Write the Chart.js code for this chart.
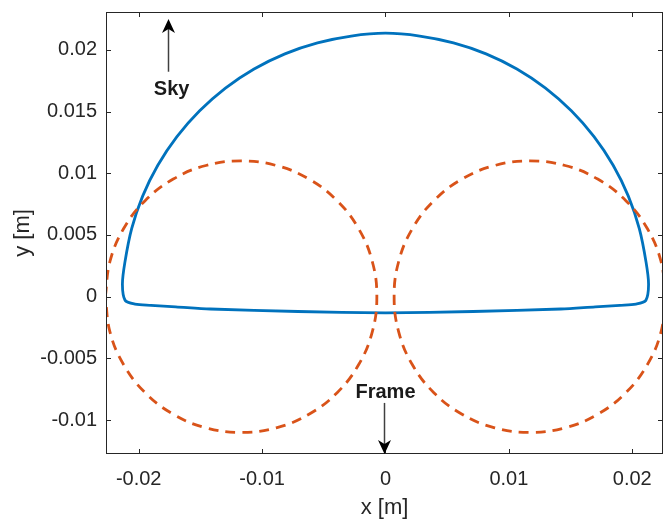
<!DOCTYPE html>
<html><head><meta charset="utf-8">
<script src="https://cdn.jsdelivr.net/npm/chart.js@4/dist/chart.umd.min.js"></script>
<style>html,body{margin:0;padding:0;background:#fff}#wrap{width:664px;height:521px}</style>
</head><body><div id="wrap"><canvas id="c" width="664" height="521"></canvas></div>
<script>
// ---- tick values / labels ----
const xTickValues = [-0.02, -0.01, 0, 0.01, 0.02];
const xTickLabels = ['-0.02', '-0.01', '0', '0.01', '0.02'];
const yTickValues = [-0.01, -0.005, 0, 0.005, 0.01, 0.015, 0.02];
const yTickLabels = ['-0.01', '-0.005', '0', '0.005', '0.01', '0.015', '0.02'];

// ---- blue solid outline (x, y in m) ----
const outlineX = [0, -0.0071, -0.0142, -0.0170, -0.0190, -0.0203, -0.0211, -0.02132,
                  -0.02112, -0.02057, -0.01968, -0.01845, -0.0169, -0.01506, -0.01297, -0.01065, -0.00815, -0.00551, -0.00278, 0,
                  0.00278, 0.00551, 0.00815, 0.01065, 0.01297, 0.01506, 0.0169, 0.01845, 0.01968, 0.02057, 0.02112,
                  0.02132, 0.0211, 0.0203, 0.0190, 0.0170, 0.0142, 0.0071, 0];
const outlineY = [-0.00132, -0.0012, -0.0010, -0.00082, -0.0007, -0.0006, -0.0003, 0.0010,
                  0.00278, 0.00551, 0.00815, 0.01065, 0.01297, 0.01506, 0.0169, 0.01845, 0.01968, 0.02057, 0.02112, 0.02135,
                  0.02112, 0.02057, 0.01968, 0.01845, 0.0169, 0.01506, 0.01297, 0.01065, 0.00815, 0.00551, 0.00278,
                  0.0010, -0.0003, -0.0006, -0.0007, -0.00082, -0.0010, -0.0012, -0.00132];

// ---- orange dashed left circle ----
const leftCircleX = [-0.0227, -0.02233, -0.02123, -0.01948, -0.0172, -0.01455, -0.0117, -0.00885, -0.0062, -0.00392, -0.00217, -0.00107, -0.0007,
                     -0.00107, -0.00217, -0.00392, -0.0062, -0.00885, -0.0117, -0.01455, -0.0172, -0.01948, -0.02123, -0.02233, -0.0227];
const leftCircleY = [0, 0.00285, 0.0055, 0.00778, 0.00953, 0.01063, 0.011, 0.01063, 0.00953, 0.00778, 0.0055, 0.00285, 0,
                     -0.00285, -0.0055, -0.00778, -0.00953, -0.01063, -0.011, -0.01063, -0.00953, -0.00778, -0.0055, -0.00285, 0];

// ---- orange dashed right circle ----
const rightCircleX = [0.0227, 0.02233, 0.02123, 0.01948, 0.0172, 0.01455, 0.0117, 0.00885, 0.0062, 0.00392, 0.00217, 0.00107, 0.0007,
                      0.00107, 0.00217, 0.00392, 0.0062, 0.00885, 0.0117, 0.01455, 0.0172, 0.01948, 0.02123, 0.02233, 0.0227];
const rightCircleY = [0, 0.00285, 0.0055, 0.00778, 0.00953, 0.01063, 0.011, 0.01063, 0.00953, 0.00778, 0.0055, 0.00285, 0,
                      -0.00285, -0.0055, -0.00778, -0.00953, -0.01063, -0.011, -0.01063, -0.00953, -0.00778, -0.0055, -0.00285, 0];

const toPts = (xs, ys) => xs.map((x, i) => ({x: x, y: ys[i]}));

const FONT = "'Liberation Sans', Arial, Helvetica, sans-serif";
const AX = '#262626';

// annotations (data coordinates)
const annotations = [
  {label: 'Sky', x: -0.01759, tailY: 0.01823, tipY: 0.0225, textX: -0.01733, textY: 0.01635},
  {label: 'Frame', x: -0.0001, tailY: -0.00861, tipY: -0.01275, textX: 0.0, textY: -0.00821}
];

const framePlugin = {
  id: 'frame',
  afterDatasetsDraw(chart) {
    const {ctx, chartArea: a, scales} = chart;
    const xs = scales.x, ys = scales.y;
    ctx.save();
    ctx.strokeStyle = AX;
    ctx.lineWidth = 1;
    ctx.strokeRect(a.left + 0.5, a.top + 0.5, a.right - a.left - 1, a.bottom - a.top - 1);
    const tl = 5;
    ctx.beginPath();
    xTickValues.forEach(v => {
      const p = Math.round(xs.getPixelForValue(v)) + 0.5;
      ctx.moveTo(p, a.bottom); ctx.lineTo(p, a.bottom - tl);
      ctx.moveTo(p, a.top); ctx.lineTo(p, a.top + tl);
    });
    yTickValues.forEach(v => {
      const p = Math.round(ys.getPixelForValue(v)) + 0.5;
      ctx.moveTo(a.left, p); ctx.lineTo(a.left + tl, p);
      ctx.moveTo(a.right, p); ctx.lineTo(a.right - tl, p);
    });
    ctx.stroke();

    // arrows + labels
    annotations.forEach(an => {
      const x = Math.round(xs.getPixelForValue(an.x)) + 0.5;
      const y0 = ys.getPixelForValue(an.tailY);
      const y1 = ys.getPixelForValue(an.tipY);
      const dir = y1 < y0 ? -1 : 1;
      const headL = 14, headW = 6.5, notch = 4;
      ctx.strokeStyle = '#404040';
      ctx.lineWidth = 1.5;
      ctx.beginPath();
      ctx.moveTo(x, y0);
      ctx.lineTo(x, y1 - dir * (headL - notch));
      ctx.stroke();
      ctx.fillStyle = '#000';
      ctx.beginPath();
      ctx.moveTo(x, y1);
      ctx.lineTo(x - headW, y1 - dir * headL);
      ctx.lineTo(x, y1 - dir * (headL - notch));
      ctx.lineTo(x + headW, y1 - dir * headL);
      ctx.closePath();
      ctx.fill();
      ctx.font = 'bold 20px ' + FONT;
      ctx.fillStyle = '#1a1a1a';
      ctx.textAlign = 'center';
      ctx.textBaseline = 'alphabetic';
      ctx.fillText(an.label, xs.getPixelForValue(an.textX), ys.getPixelForValue(an.textY));
    });
    ctx.restore();
  }
};

new Chart(document.getElementById('c'), {
  type: 'scatter',
  data: {
    datasets: [
      {data: toPts(leftCircleX, leftCircleY), showLine: true, borderColor: '#D95319', borderWidth: 2.8, borderDash: [10, 7],
       pointRadius: 0, tension: 0.4, fill: false, borderCapStyle: 'butt'},
      {data: toPts(rightCircleX, rightCircleY), showLine: true, borderColor: '#D95319', borderWidth: 2.8, borderDash: [10, 7],
       pointRadius: 0, tension: 0.4, fill: false, borderCapStyle: 'butt'},
      {data: toPts(outlineX, outlineY), showLine: true, borderColor: '#0072BD', borderWidth: 2.8,
       pointRadius: 0, tension: 0.3, fill: false}
    ]
  },
  options: {
    responsive: false,
    animation: false,
    devicePixelRatio: 1,
    layout: {padding: {left: 0, right: 1, top: 12, bottom: 0}},
    plugins: {legend: {display: false}, tooltip: {enabled: false}},
    scales: {
      x: {
        type: 'linear', min: -0.02265, max: 0.02249,
        grid: {display: false, drawTicks: false},
        border: {display: false},
        afterBuildTicks: s => { s.ticks = xTickValues.map(v => ({value: v})); },
        afterFit: s => { s.height = 67; s.paddingLeft = 0; s.paddingRight = 0; },
        ticks: {autoSkip: false, maxRotation: 0, padding: 13, color: AX, font: {family: FONT, size: 20},
                callback: (v, i) => xTickLabels[i]},
        title: {display: true, text: 'x [m]', color: AX, font: {family: FONT, size: 22}, padding: {top: 0, bottom: 0}}
      },
      y: {
        type: 'linear', min: -0.01275, max: 0.02307,
        grid: {display: false, drawTicks: false},
        border: {display: false},
        afterBuildTicks: s => { s.ticks = yTickValues.map(v => ({value: v})); },
        afterFit: s => { s.width = 106; s.paddingTop = 0; s.paddingBottom = 0; },
        ticks: {autoSkip: false, padding: 9, color: AX, font: {family: FONT, size: 20},
                callback: (v, i) => yTickLabels[i]},
        title: {display: true, text: 'y [m]', color: AX, font: {family: FONT, size: 22}, padding: {top: 10, bottom: 0}}
      }
    }
  },
  plugins: [framePlugin]
});
</script>
</body></html>
